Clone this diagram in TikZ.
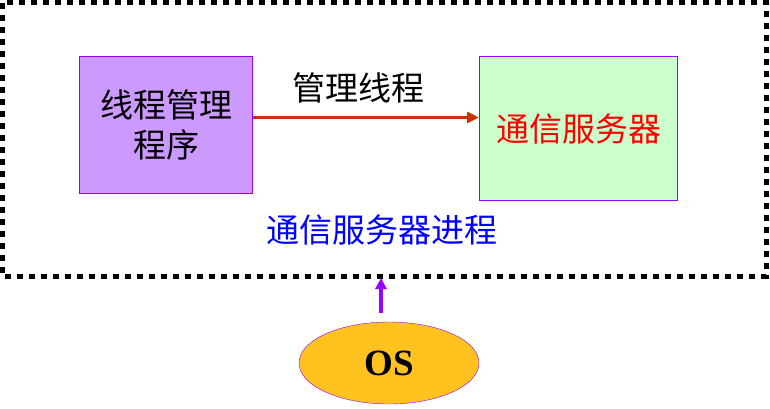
\documentclass[tikz,border=0pt]{standalone}
\usepackage{fontspec}
\setmainfont{Liberation Serif}
\newfontfamily\cjk{Noto Sans CJK SC}
\usetikzlibrary{shapes.geometric,arrows.meta}
\definecolor{boxpurple}{HTML}{CC99FF}
\definecolor{boxgreen}{HTML}{CCFFCC}
\definecolor{edgepurple}{HTML}{9900FF}
\definecolor{arrowred}{HTML}{CC3300}
\definecolor{osgold}{HTML}{FFC21E}
\tikzset{
  procbox/.style={draw=edgepurple, line width=1pt, anchor=north west, align=center},
  cjktext/.style={font=\cjk\fontsize{33}{40}\selectfont},
}
\begin{document}
\begin{tikzpicture}[x=1pt,y=-1pt]
    \useasboundingbox (0,0) rectangle (770,408);

    % Process frame
    \draw[line width=5pt, dash pattern=on 6pt off 6pt] (2.5,2.5) rectangle (766,276);

    % Boxes
    \node[procbox, fill=boxpurple, minimum width=173pt, minimum height=137pt, cjktext] (mgr) at (79,56) {线程管理\\程序};
    \node[procbox, fill=boxgreen, minimum width=198pt, minimum height=144pt, cjktext, text=red] (srv) at (479,56) {通信服务器};

    \draw[-{Triangle[length=12pt,width=11pt]}, line width=3pt, arrowred]
        ([yshift=7.5pt]mgr.east) -- ([yshift=7.5pt]mgr.east -| srv.west);
    \node[cjktext] (lbl) at (358,88) {管理线程};

    \node[cjktext, text=blue] (proc) at (382,230) {通信服务器进程};

    % OS
    \node[ellipse, draw=edgepurple, fill=osgold, minimum width=180pt, minimum height=82pt,
          font=\bfseries\fontsize{37}{42}\selectfont] (os) at (389,363) {OS};
    \coordinate (osTop) at (381,313);
    \coordinate (frameB) at (381,278);
    \draw[-{Triangle[length=11pt,width=11pt]}, line width=4pt, edgepurple] (osTop) -- (frameB);
\end{tikzpicture}
\end{document}
